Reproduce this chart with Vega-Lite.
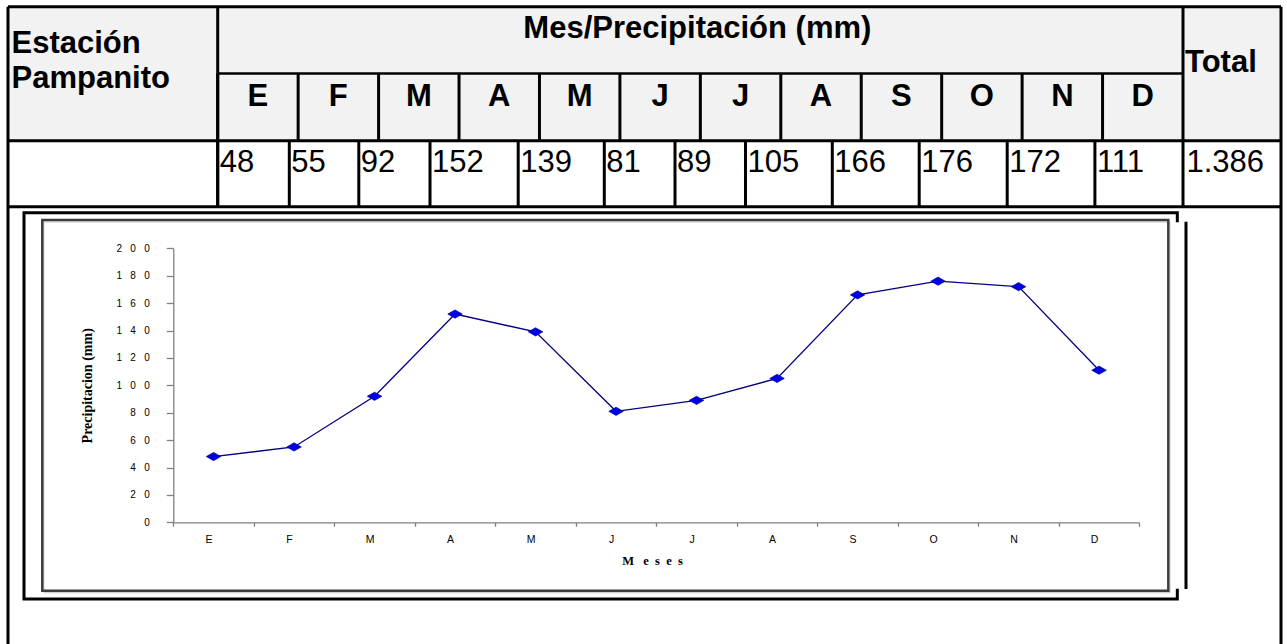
{
  "$schema": "https://vega.github.io/schema/vega-lite/v6.json",
  "width": 1287,
  "height": 644,
  "padding": 0,
  "autosize": {"type": "none"},
  "background": "white",
  "config": {"view": {"stroke": null}},
  "datasets": {
    "meses": [
      {"mes": "Enero", "letra": "E", "n": 1, "pp": 48},
      {"mes": "Febrero", "letra": "F", "n": 2, "pp": 55},
      {"mes": "Marzo", "letra": "M", "n": 3, "pp": 92},
      {"mes": "Abril", "letra": "A", "n": 4, "pp": 152},
      {"mes": "Mayo", "letra": "M", "n": 5, "pp": 139},
      {"mes": "Junio", "letra": "J", "n": 6, "pp": 81},
      {"mes": "Julio", "letra": "J", "n": 7, "pp": 89},
      {"mes": "Agosto", "letra": "A", "n": 8, "pp": 105},
      {"mes": "Septiembre", "letra": "S", "n": 9, "pp": 166},
      {"mes": "Octubre", "letra": "O", "n": 10, "pp": 176},
      {"mes": "Noviembre", "letra": "N", "n": 11, "pp": 172},
      {"mes": "Diciembre", "letra": "D", "n": 12, "pp": 111}
    ],
    "tabla": [
      {"estacion": "Estación Pampanito", "titulo": "Mes/Precipitación (mm)", "total_et": "Total", "total": "1.386"}
    ]
  },
  "data": {"name": "tabla"},
  "resolve": {"scale": {"x": "independent", "y": "independent"}},
  "layer": [
    {
      "mark": {"type": "rect", "fill": "#F2F2F2"},
      "encoding": {
        "x": {"datum": 0, "type": "quantitative", "axis": null, "scale": {"type": "linear", "domain": [0, 1, 13, 14], "range": [8, 217.7, 1183, 1281], "zero": false, "nice": false}},
        "x2": {"datum": 14},
        "y": {"datum": 0, "type": "quantitative", "axis": null, "scale": {"type": "linear", "domain": [0, 1, 2, 3, 4], "range": [6.7, 73.5, 140.7, 206.7, 700], "zero": false, "nice": false}},
        "y2": {"datum": 2}
      }
    },
    {
      "mark": {"type": "rect", "fill": null, "stroke": "#000000", "strokeWidth": 3},
      "encoding": {
        "x": {"datum": 0.0763, "type": "quantitative", "axis": null, "scale": {"type": "linear", "domain": [0, 1, 13, 14], "range": [8, 217.7, 1183, 1281], "zero": false, "nice": false}},
        "x2": {"datum": 12.9294},
        "y": {"datum": 3.0122, "type": "quantitative", "axis": null, "scale": {"type": "linear", "domain": [0, 1, 2, 3, 4], "range": [6.7, 73.5, 140.7, 206.7, 700], "zero": false, "nice": false}},
        "y2": {"datum": 3.7953}
      }
    },
    {
      "mark": {"type": "rule", "stroke": "#FFFFFF", "strokeWidth": 6},
      "encoding": {
        "x": {"datum": 12.9294, "type": "quantitative", "axis": null, "scale": {"type": "linear", "domain": [0, 1, 13, 14], "range": [8, 217.7, 1183, 1281], "zero": false, "nice": false}},
        "y": {"datum": 3.0315, "type": "quantitative", "axis": null, "scale": {"type": "linear", "domain": [0, 1, 2, 3, 4], "range": [6.7, 73.5, 140.7, 206.7, 700], "zero": false, "nice": false}},
        "y2": {"datum": 3.7745}
      }
    },
    {
      "mark": {"type": "rect", "fill": null, "stroke": "#C8C8C8", "strokeWidth": 1},
      "encoding": {
        "x": {"datum": 0.1706, "type": "quantitative", "axis": null, "scale": {"type": "linear", "domain": [0, 1, 13, 14], "range": [8, 217.7, 1183, 1281], "zero": false, "nice": false}},
        "x2": {"datum": 12.8385},
        "y": {"datum": 3.0311, "type": "quantitative", "axis": null, "scale": {"type": "linear", "domain": [0, 1, 2, 3, 4], "range": [6.7, 73.5, 140.7, 206.7, 700], "zero": false, "nice": false}},
        "y2": {"datum": 3.7825}
      }
    },
    {
      "mark": {"type": "rect", "fill": null, "stroke": "#3C3C3C", "strokeWidth": 2.5},
      "encoding": {
        "x": {"datum": 0.1636, "type": "quantitative", "axis": null, "scale": {"type": "linear", "domain": [0, 1, 13, 14], "range": [8, 217.7, 1183, 1281], "zero": false, "nice": false}},
        "x2": {"datum": 12.8175},
        "y": {"datum": 3.027, "type": "quantitative", "axis": null, "scale": {"type": "linear", "domain": [0, 1, 2, 3, 4], "range": [6.7, 73.5, 140.7, 206.7, 700], "zero": false, "nice": false}},
        "y2": {"datum": 3.7784}
      }
    },
    {
      "mark": {"type": "rule", "stroke": "#000000", "strokeWidth": 3},
      "encoding": {
        "x": {"datum": 13.0306, "type": "quantitative", "axis": null, "scale": {"type": "linear", "domain": [0, 1, 13, 14], "range": [8, 217.7, 1183, 1281], "zero": false, "nice": false}},
        "y": {"datum": 3.0304, "type": "quantitative", "axis": null, "scale": {"type": "linear", "domain": [0, 1, 2, 3, 4], "range": [6.7, 73.5, 140.7, 206.7, 700], "zero": false, "nice": false}},
        "y2": {"datum": 3.7749}
      }
    },
    {
      "mark": {"type": "rule", "stroke": "#000000", "strokeWidth": 3},
      "encoding": {
        "x": {"datum": 0, "type": "quantitative", "axis": null, "scale": {"type": "linear", "domain": [0, 1, 13, 14], "range": [8, 217.7, 1183, 1281], "zero": false, "nice": false}},
        "x2": {"datum": 14},
        "y": {"datum": 0, "type": "quantitative", "axis": null, "scale": {"type": "linear", "domain": [0, 1, 2, 3, 4], "range": [6.7, 73.5, 140.7, 206.7, 700], "zero": false, "nice": false}}
      }
    },
    {
      "mark": {"type": "rule", "stroke": "#000000", "strokeWidth": 2.5},
      "encoding": {
        "x": {"datum": 1, "type": "quantitative", "axis": null, "scale": {"type": "linear", "domain": [0, 1, 13, 14], "range": [8, 217.7, 1183, 1281], "zero": false, "nice": false}},
        "x2": {"datum": 13},
        "y": {"datum": 1, "type": "quantitative", "axis": null, "scale": {"type": "linear", "domain": [0, 1, 2, 3, 4], "range": [6.7, 73.5, 140.7, 206.7, 700], "zero": false, "nice": false}}
      }
    },
    {
      "mark": {"type": "rule", "stroke": "#000000", "strokeWidth": 3},
      "encoding": {
        "x": {"datum": 0, "type": "quantitative", "axis": null, "scale": {"type": "linear", "domain": [0, 1, 13, 14], "range": [8, 217.7, 1183, 1281], "zero": false, "nice": false}},
        "x2": {"datum": 14},
        "y": {"datum": 2, "type": "quantitative", "axis": null, "scale": {"type": "linear", "domain": [0, 1, 2, 3, 4], "range": [6.7, 73.5, 140.7, 206.7, 700], "zero": false, "nice": false}}
      }
    },
    {
      "mark": {"type": "rule", "stroke": "#000000", "strokeWidth": 3},
      "encoding": {
        "x": {"datum": 0, "type": "quantitative", "axis": null, "scale": {"type": "linear", "domain": [0, 1, 13, 14], "range": [8, 217.7, 1183, 1281], "zero": false, "nice": false}},
        "x2": {"datum": 14},
        "y": {"datum": 3, "type": "quantitative", "axis": null, "scale": {"type": "linear", "domain": [0, 1, 2, 3, 4], "range": [6.7, 73.5, 140.7, 206.7, 700], "zero": false, "nice": false}}
      }
    },
    {
      "mark": {"type": "rule", "stroke": "#000000", "strokeWidth": 3},
      "encoding": {
        "x": {"datum": 0, "type": "quantitative", "axis": null, "scale": {"type": "linear", "domain": [0, 1, 13, 14], "range": [8, 217.7, 1183, 1281], "zero": false, "nice": false}},
        "y": {"datum": 0, "type": "quantitative", "axis": null, "scale": {"type": "linear", "domain": [0, 1, 2, 3, 4], "range": [6.7, 73.5, 140.7, 206.7, 700], "zero": false, "nice": false}},
        "y2": {"datum": 4}
      }
    },
    {
      "mark": {"type": "rule", "stroke": "#000000", "strokeWidth": 3},
      "encoding": {
        "x": {"datum": 14, "type": "quantitative", "axis": null, "scale": {"type": "linear", "domain": [0, 1, 13, 14], "range": [8, 217.7, 1183, 1281], "zero": false, "nice": false}},
        "y": {"datum": 0, "type": "quantitative", "axis": null, "scale": {"type": "linear", "domain": [0, 1, 2, 3, 4], "range": [6.7, 73.5, 140.7, 206.7, 700], "zero": false, "nice": false}},
        "y2": {"datum": 4}
      }
    },
    {
      "mark": {"type": "rule", "stroke": "#000000", "strokeWidth": 3},
      "encoding": {
        "x": {"datum": 1, "type": "quantitative", "axis": null, "scale": {"type": "linear", "domain": [0, 1, 13, 14], "range": [8, 217.7, 1183, 1281], "zero": false, "nice": false}},
        "y": {"datum": 0, "type": "quantitative", "axis": null, "scale": {"type": "linear", "domain": [0, 1, 2, 3, 4], "range": [6.7, 73.5, 140.7, 206.7, 700], "zero": false, "nice": false}},
        "y2": {"datum": 3}
      }
    },
    {
      "mark": {"type": "rule", "stroke": "#000000", "strokeWidth": 3},
      "encoding": {
        "x": {"datum": 13, "type": "quantitative", "axis": null, "scale": {"type": "linear", "domain": [0, 1, 13, 14], "range": [8, 217.7, 1183, 1281], "zero": false, "nice": false}},
        "y": {"datum": 0, "type": "quantitative", "axis": null, "scale": {"type": "linear", "domain": [0, 1, 2, 3, 4], "range": [6.7, 73.5, 140.7, 206.7, 700], "zero": false, "nice": false}},
        "y2": {"datum": 3}
      }
    },
    {
      "data": {"name": "meses"},
      "mark": {"type": "rule", "stroke": "#000000", "strokeWidth": 3},
      "encoding": {
        "x": {"field": "n", "type": "quantitative", "axis": null, "scale": {"type": "linear", "domain": [0, 1, 13, 14], "range": [8, 217.7, 1183, 1281], "zero": false, "nice": false}},
        "y": {"datum": 1, "type": "quantitative", "axis": null, "scale": {"type": "linear", "domain": [0, 1, 2, 3, 4], "range": [6.7, 73.5, 140.7, 206.7, 700], "zero": false, "nice": false}},
        "y2": {"datum": 2}
      }
    },
    {
      "data": {"name": "meses"},
      "mark": {"type": "rule", "stroke": "#000000", "strokeWidth": 3},
      "encoding": {
        "x": {"field": "n", "type": "quantitative", "axis": null, "scale": {"type": "linear", "domain": [1, 2, 3, 4, 5, 6, 7, 8, 9, 10, 11, 12, 13], "range": [217.7, 289.3, 358.8, 430, 518.2, 604.3, 675, 745.5, 832.3, 919.2, 1007.2, 1094.9, 1183], "zero": false, "nice": false}},
        "y": {"datum": 2, "type": "quantitative", "axis": null, "scale": {"type": "linear", "domain": [0, 1, 2, 3, 4], "range": [6.7, 73.5, 140.7, 206.7, 700], "zero": false, "nice": false}},
        "y2": {"datum": 3}
      }
    },
    {
      "mark": {"type": "text", "font": "Liberation Sans", "fontSize": 31, "fontWeight": "bold", "color": "#000000", "align": "left", "baseline": "alphabetic", "lineBreak": " ", "lineHeight": 35, "dx": 3.5, "dy": 46.6},
      "encoding": {
        "text": {"field": "estacion"},
        "x": {"datum": 0, "type": "quantitative", "axis": null, "scale": {"type": "linear", "domain": [0, 1, 13, 14], "range": [8, 217.7, 1183, 1281], "zero": false, "nice": false}},
        "y": {"datum": 0, "type": "quantitative", "axis": null, "scale": {"type": "linear", "domain": [0, 1, 2, 3, 4], "range": [6.7, 73.5, 140.7, 206.7, 700], "zero": false, "nice": false}}
      }
    },
    {
      "mark": {"type": "text", "font": "Liberation Sans", "fontSize": 31, "fontWeight": "bold", "color": "#000000", "align": "center", "baseline": "alphabetic", "dx": -3, "dy": 31.6},
      "encoding": {
        "text": {"field": "titulo"},
        "x": {"datum": 7, "type": "quantitative", "axis": null, "scale": {"type": "linear", "domain": [0, 1, 13, 14], "range": [8, 217.7, 1183, 1281], "zero": false, "nice": false}},
        "y": {"datum": 0, "type": "quantitative", "axis": null, "scale": {"type": "linear", "domain": [0, 1, 2, 3, 4], "range": [6.7, 73.5, 140.7, 206.7, 700], "zero": false, "nice": false}}
      }
    },
    {
      "mark": {"type": "text", "font": "Liberation Sans", "fontSize": 31, "fontWeight": "bold", "color": "#000000", "align": "left", "baseline": "alphabetic", "dx": 2, "dy": 65},
      "encoding": {
        "text": {"field": "total_et"},
        "x": {"datum": 13, "type": "quantitative", "axis": null, "scale": {"type": "linear", "domain": [0, 1, 13, 14], "range": [8, 217.7, 1183, 1281], "zero": false, "nice": false}},
        "y": {"datum": 0, "type": "quantitative", "axis": null, "scale": {"type": "linear", "domain": [0, 1, 2, 3, 4], "range": [6.7, 73.5, 140.7, 206.7, 700], "zero": false, "nice": false}}
      }
    },
    {
      "mark": {"type": "text", "font": "Liberation Sans", "fontSize": 31, "color": "#000000", "align": "left", "baseline": "alphabetic", "dx": 3.5, "dy": 31.5},
      "encoding": {
        "text": {"field": "total"},
        "x": {"datum": 13, "type": "quantitative", "axis": null, "scale": {"type": "linear", "domain": [0, 1, 13, 14], "range": [8, 217.7, 1183, 1281], "zero": false, "nice": false}},
        "y": {"datum": 2, "type": "quantitative", "axis": null, "scale": {"type": "linear", "domain": [0, 1, 2, 3, 4], "range": [6.7, 73.5, 140.7, 206.7, 700], "zero": false, "nice": false}}
      }
    },
    {
      "data": {"name": "meses"},
      "mark": {"type": "text", "font": "Liberation Sans", "fontSize": 31, "fontWeight": "bold", "color": "#000000", "align": "center", "baseline": "alphabetic", "dx": 40.2, "dy": 32},
      "encoding": {
        "text": {"field": "letra"},
        "x": {"field": "n", "type": "quantitative", "axis": null, "scale": {"type": "linear", "domain": [0, 1, 13, 14], "range": [8, 217.7, 1183, 1281], "zero": false, "nice": false}},
        "y": {"datum": 1, "type": "quantitative", "axis": null, "scale": {"type": "linear", "domain": [0, 1, 2, 3, 4], "range": [6.7, 73.5, 140.7, 206.7, 700], "zero": false, "nice": false}}
      }
    },
    {
      "data": {"name": "meses"},
      "mark": {"type": "text", "font": "Liberation Sans", "fontSize": 31, "color": "#000000", "align": "left", "baseline": "alphabetic", "dx": 2, "dy": 31.5},
      "encoding": {
        "text": {"field": "pp", "type": "quantitative"},
        "x": {"field": "n", "type": "quantitative", "axis": null, "scale": {"type": "linear", "domain": [1, 2, 3, 4, 5, 6, 7, 8, 9, 10, 11, 12, 13], "range": [217.7, 289.3, 358.8, 430, 518.2, 604.3, 675, 745.5, 832.3, 919.2, 1007.2, 1094.9, 1183], "zero": false, "nice": false}},
        "y": {"datum": 2, "type": "quantitative", "axis": null, "scale": {"type": "linear", "domain": [0, 1, 2, 3, 4], "range": [6.7, 73.5, 140.7, 206.7, 700], "zero": false, "nice": false}}
      }
    },
    {
      "data": {"name": "meses"},
      "mark": {"type": "line", "color": "#000080", "strokeWidth": 1.3},
      "encoding": {
        "x": {
          "field": "mes", "type": "nominal",
          "scale": {"type": "band", "domain": ["Enero", "Febrero", "Marzo", "Abril", "Mayo", "Junio", "Julio", "Agosto", "Septiembre", "Octubre", "Noviembre", "Diciembre"], "range": [173.3, 1139.3], "paddingInner": 0, "paddingOuter": 0},
          "axis": {
            "orient": "bottom", "offset": -121.7, "grid": false,
            "title": "M\u00a0\u00a0\u00a0e\u00a0\u00a0s\u00a0\u00a0e\u00a0\u00a0s",
            "titleFont": "Liberation Serif", "titleFontSize": 12.5, "titleFontWeight": "bold", "titleColor": "#000000", "titlePadding": 10, "titleX": 652,
            "labelExpr": "upper(slice(datum.label, 0, 1))",
            "labelFont": "Liberation Sans", "labelFontSize": 10.5, "labelColor": "#000000", "labelPadding": 8, "labelOffset": -5, "labelAngle": 0,
            "domainColor": "#808080", "domainWidth": 1.3, "tickColor": "#808080", "tickWidth": 1.3, "tickSize": 4, "tickBand": "extent"
          }
        },
        "y": {
          "field": "pp", "type": "quantitative",
          "scale": {"type": "linear", "domain": [0, 200], "range": [522.3, 248.3], "zero": false, "nice": false},
          "axis": {
            "orient": "left", "offset": -173.3, "grid": false,
            "values": [0, 20, 40, 60, 80, 100, 120, 140, 160, 180, 200],
            "labelExpr": "join(split(datum.label, ''), '\u00a0\u00a0\u00a0')",
            "labelFont": "Liberation Sans", "labelFontSize": 10, "labelColor": "#000000", "labelPadding": 17,
            "domainColor": "#808080", "domainWidth": 1.3, "tickColor": "#808080", "tickWidth": 1.3, "tickSize": 7,
            "title": "Precipitacion (mm)", "titleFont": "Liberation Serif", "titleFontSize": 14, "titleFontWeight": "bold", "titleColor": "#000000", "titlePadding": 21
          }
        }
      }
    },
    {
      "data": {"name": "meses"},
      "mark": {"type": "point", "filled": true, "shape": "M-1,0L0,-0.57L1,0L0,0.57Z", "size": 210, "fill": "#0000E6", "stroke": "#00009A", "strokeWidth": 0.7, "opacity": 1},
      "encoding": {
        "x": {
          "field": "mes", "type": "nominal", "axis": null,
          "scale": {"type": "band", "domain": ["Enero", "Febrero", "Marzo", "Abril", "Mayo", "Junio", "Julio", "Agosto", "Septiembre", "Octubre", "Noviembre", "Diciembre"], "range": [173.3, 1139.3], "paddingInner": 0, "paddingOuter": 0}
        },
        "y": {
          "field": "pp", "type": "quantitative", "axis": null,
          "scale": {"type": "linear", "domain": [0, 200], "range": [522.3, 248.3], "zero": false, "nice": false}
        }
      }
    }
  ]
}
